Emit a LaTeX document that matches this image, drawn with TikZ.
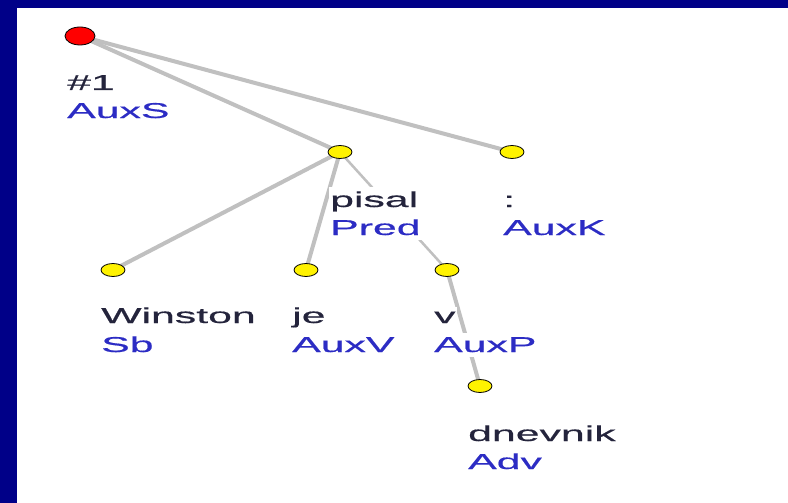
\documentclass[tikz,border=0pt]{standalone}
\usepackage{fontspec}
\setmainfont{Liberation Sans}
\newfontfamily\widefont[FakeStretch=1.99,FakeBold=0.6]{Liberation Sans}
\usetikzlibrary{shapes.geometric}
\definecolor{navy}{RGB}{0,0,136}
\definecolor{edgegray}{RGB}{192,192,192}
\definecolor{wordcol}{RGB}{36,36,60}
\definecolor{funccol}{RGB}{44,44,196}
\pgfdeclarelayer{frame}
\pgfdeclarelayer{edges}
\pgfsetlayers{frame,edges,main}
\tikzset{
  rootdot/.style={ellipse, draw=black, line width=0.8pt, fill=red, minimum width=30pt, minimum height=18pt, inner sep=0pt},
  ydot/.style={ellipse, draw=black, line width=0.8pt, fill=yellow, minimum width=24pt, minimum height=13pt, inner sep=0pt},
  edge/.style={draw=edgegray, line width=4pt},
  thinedge/.style={draw=edgegray, line width=2.5pt},
  lbl/.style={anchor=base west, fill=white, inner xsep=1pt, inner ysep=4.5pt, font=\widefont\fontsize{21.5}{24}\selectfont},
  word/.style={lbl, text=wordcol},
  func/.style={lbl, text=funccol}
}
\begin{document}
\begin{tikzpicture}[x=1pt,y=-1pt]
\useasboundingbox (0,0) rectangle (788,503);
\begin{pgfonlayer}{frame}
  \fill[navy] (0,0) rectangle (788,503);
  \fill[white] (17,8) rectangle (788,503);
\end{pgfonlayer}
% tree nodes
\node[rootdot] (root) at (80,36) {};
\node[ydot] (pisal) at (340,152) {};
\node[ydot] (auxk) at (512,152) {};
\node[ydot] (winston) at (113,270) {};
\node[ydot] (je) at (306,270) {};
\node[ydot] (v) at (447,270) {};
\node[ydot] (dnevnik) at (480,386) {};
% edges
\begin{pgfonlayer}{edges}
  \draw[edge] (root.center) -- (pisal.center);
  \draw[edge] (root.center) -- (auxk.center);
  \draw[edge] (pisal.center) -- (winston.center);
  \draw[edge] (pisal.center) -- (je.center);
  \draw[thinedge] (pisal.center) -- (v.center);
  \draw[edge] (v.center) -- (dnevnik.center);
\end{pgfonlayer}
% labels
\node[word] (l1a) at (66,90) {\#1};
\node[func] (l1b) at (66,118) {AuxS};
\node[word] (l2a) at (329,207) {pisal};
\node[func] (l2b) at (329,235) {Pred};
\node[word] (l3a) at (502,207) {:};
\node[func] (l3b) at (502,235) {AuxK};
\node[word] (l4a) at (100,323) {Winston};
\node[func] (l4b) at (100,352) {Sb};
\node[word] (l5a) at (291,323) {je};
\node[func] (l5b) at (291,352) {AuxV};
\node[word] (l6a) at (433,323) {v};
\node[func] (l6b) at (433,352) {AuxP};
\node[word] (l7a) at (467,441) {dnevnik};
\node[func] (l7b) at (467,469) {Adv};
\end{tikzpicture}
\end{document}
